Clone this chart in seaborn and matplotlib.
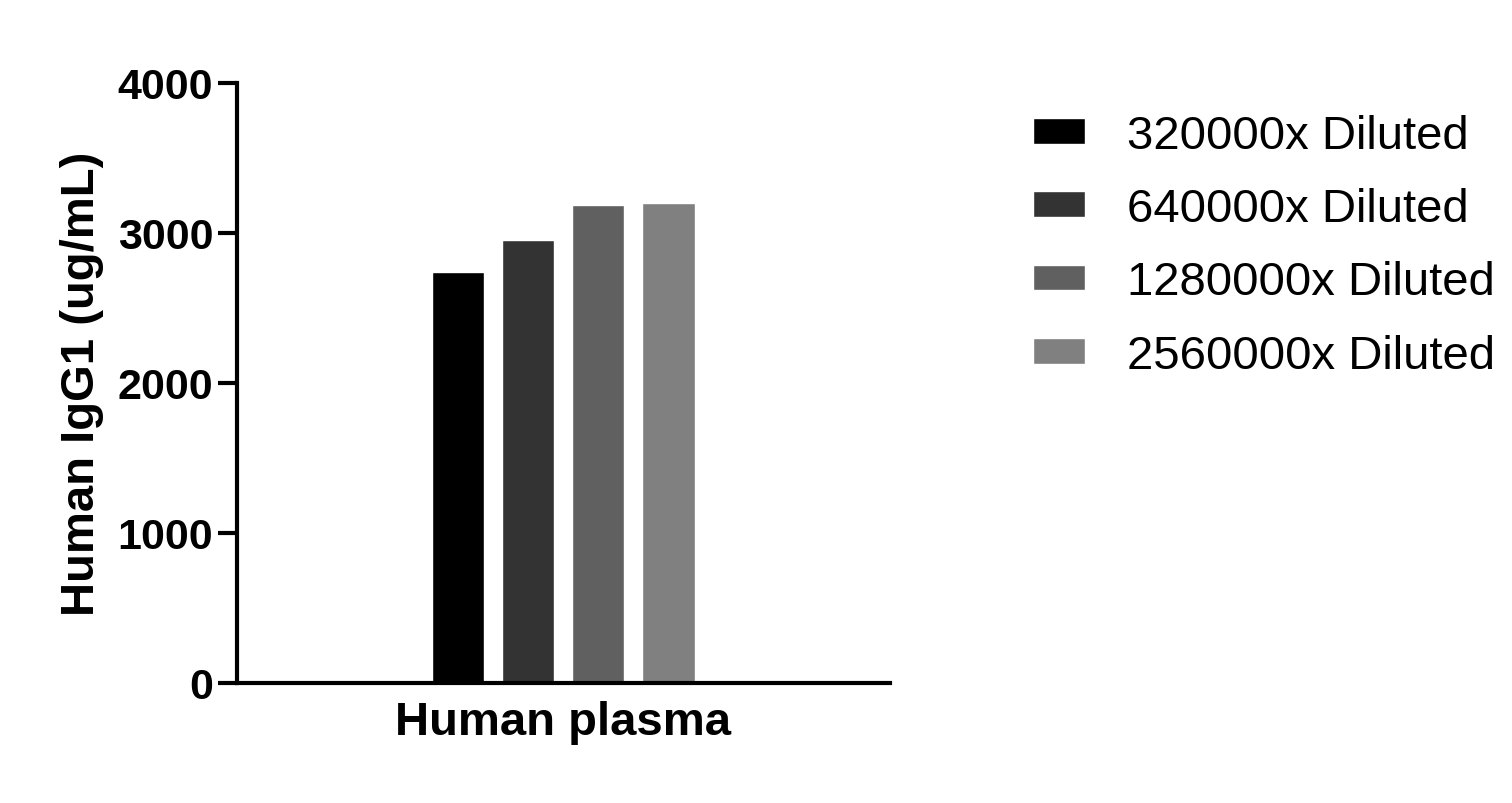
import matplotlib
matplotlib.use("Agg")
import matplotlib.pyplot as plt
import seaborn as sns
import pandas as pd

sample = ["Human plasma"]
dilutions = ["320000x Diluted", "640000x Diluted", "1280000x Diluted", "2560000x Diluted"]
values = [2740, 2953, 3187, 3200]
colors = ["#000000", "#333333", "#606060", "#808080"]

df = pd.DataFrame({"sample": sample * len(dilutions), "dilution": dilutions, "value": values})

sns.set_style("white")
plt.rcParams["font.family"] = ["Liberation Sans", "DejaVu Sans"]
plt.rcParams["text.color"] = "black"
plt.rcParams["axes.labelcolor"] = "black"
plt.rcParams["xtick.color"] = "black"
plt.rcParams["ytick.color"] = "black"

fig = plt.figure(figsize=(15.12, 8.04), dpi=100)
ax = fig.add_axes([0.1567, 0.1493, 0.4319, 0.7463])

sns.barplot(data=df, x="sample", y="value", hue="dilution", palette=colors,
            width=0.429, gap=0.257, ax=ax, saturation=1, errorbar=None)

ax.set_xlim(-0.5, 0.5)
ax.set_ylim(0, 4000)
ax.set_yticks([0, 1000, 2000, 3000, 4000])
for s in ["top", "right"]:
    ax.spines[s].set_visible(False)
for s in ["left", "bottom"]:
    ax.spines[s].set_linewidth(3)
    ax.spines[s].set_color("black")
ax.tick_params(axis="y", direction="out", length=14, width=3, labelsize=31, left=True, pad=3)
ax.tick_params(axis="x", length=0, labelsize=34, pad=12)
for t in ax.get_yticklabels() + ax.get_xticklabels():
    t.set_fontweight("bold")
ax.set_xlabel("")
ax.set_ylabel("Human IgG1 (ug/mL)", fontsize=34, fontweight="bold", labelpad=10)

ax.legend(loc="upper left", bbox_to_anchor=(0.655, 0.91), bbox_transform=fig.transFigure,
          frameon=False, fontsize=34, handlelength=1.1, handleheight=0.46,
          labelspacing=0.62, handletextpad=0.9)

fig.savefig("out.png", dpi=100)
